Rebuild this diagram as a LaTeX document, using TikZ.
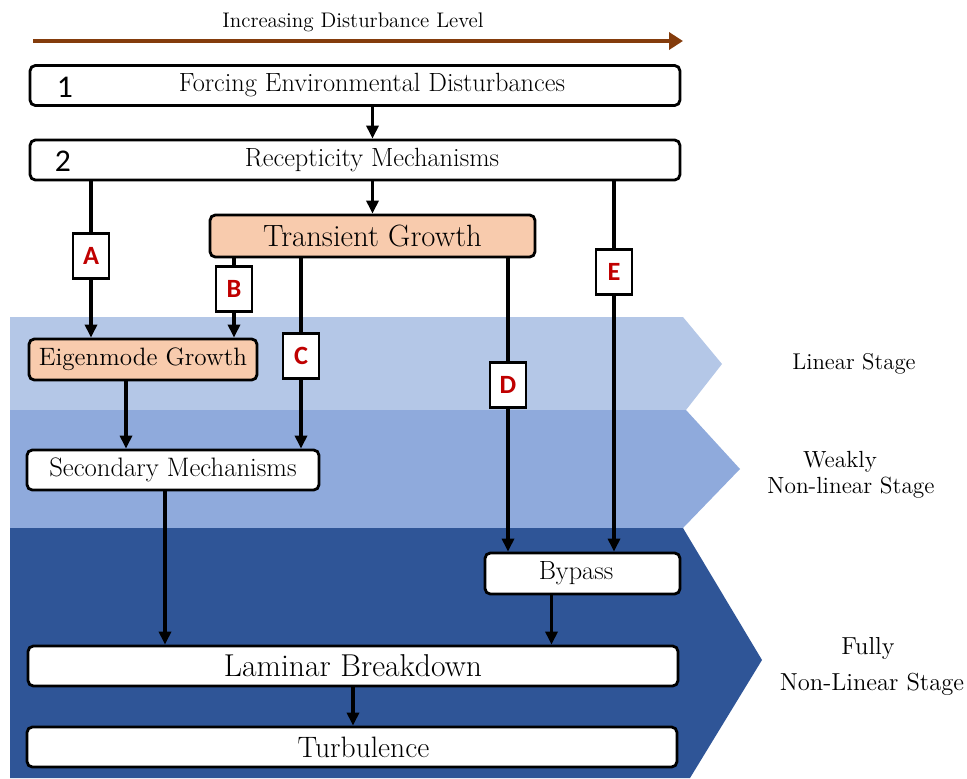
\documentclass[tikz,border=0pt]{standalone}
\usepackage{fontspec}
\newfontfamily\labfont{Carlito}
\usepackage{tikz}
\usetikzlibrary{shapes.geometric, arrows, arrows.meta}
\definecolor{peach}{HTML}{F8CBAD}
\definecolor{linearblue}{HTML}{B4C7E7}
\definecolor{weakblue}{HTML}{8FAADC}
\definecolor{fullblue}{HTML}{2F5597}
\definecolor{levelbrown}{HTML}{843C0C}
\definecolor{letterred}{HTML}{C00000}
\tikzstyle{stagebox} = [rectangle, rounded corners=3pt, draw=black, line width=1.6pt, fill=white, minimum height=0.8cm, text centered, inner sep=0pt, font=\fontsize{15}{17}\selectfont]
\tikzstyle{growth} = [stagebox, fill=peach]
\tikzstyle{letter} = [rectangle, draw=black, fill=white, line width=1.3pt, minimum width=0.72cm, minimum height=0.9cm, inner sep=0pt, text=letterred, font=\labfont\bfseries\fontsize{15}{17}\selectfont]
\tikzstyle{number} = [inner sep=0pt, font=\labfont\fontsize{18}{20}\selectfont]
\tikzstyle{stagename} = [align=center, font=\fontsize{13.3}{14.5}\selectfont]
\tikzstyle{line} = [line width=1.8pt]
\tikzstyle{arrow} = [line width=1.8pt,->,>={Triangle[length=0.26cm,width=0.24cm]}]
\tikzstyle{level} = [line width=2.8pt, draw=levelbrown, ->, >={Triangle[length=0.28cm,width=0.34cm]}]

\begin{document}
\begin{tikzpicture}[x=0.02cm, y=-0.02cm]
\useasboundingbox (0,0) rectangle (967,778);
% stage bands
\fill [linearblue] (10,317) -- (683,317) -- (722,364) -- (686,410) -- (10,410) -- cycle;
\fill [weakblue] (10,410) -- (686,410) -- (740,469) -- (683,528) -- (10,528) -- cycle;
\fill [fullblue] (10,528) -- (683,528) -- (762,660) -- (690,778) -- (10,778) -- cycle;
\node (linear) [stagename, font=\fontsize{13}{14.5}\selectfont] at (854,364) {Linear Stage};
\node (weakly) [stagename] at (851,475) {\hspace*{-0.44cm}Weakly\\Non-linear Stage};
\node (fully) [stagename, font=\fontsize{14}{20.5}\selectfont] at (872,666) {\hspace*{-0.16cm}Fully\\Non-Linear Stage};

% disturbance level
\node (title) [font=\fontsize{12}{14}\selectfont] at (353,22) {Increasing Disturbance Level};
\coordinate (lvlstart) at (33,41);
\coordinate (lvlend) at (683,41);
\draw [level] (lvlstart) -- (lvlend);

% boxes
\node (force) [stagebox, minimum width=13cm] at (355,85.5) {\hspace{0.68cm}Forcing Environmental Disturbances};
\node (num1) [number] at (65,87) {1};
\node (recep) [stagebox, minimum width=13cm] at (355,160) {\hspace{0.68cm}Recepticity Mechanisms};
\node (num2) [number] at (63,161) {2};
\node (transient) [growth, minimum width=6.5cm, minimum height=0.84cm, font=\fontsize{17.5}{19}\selectfont] at (372.5,236) {Transient Growth};
\node (eigen) [growth, minimum width=4.56cm, minimum height=0.82cm, font=\fontsize{14.3}{16}\selectfont] at (143,359.5) {Eigenmode Growth};
\node (secondary) [stagebox, minimum width=5.84cm, font=\fontsize{15.2}{17}\selectfont] at (173,470) {Secondary Mechanisms};
\node (bypass) [stagebox, minimum width=3.9cm, minimum height=0.82cm] at (582.5,573.5) {\hspace*{-0.26cm}Bypass};
\node (laminar) [stagebox, minimum width=13cm, font=\fontsize{18}{20}\selectfont] at (353,666) {Laminar Breakdown};
\node (turb) [stagebox, minimum width=13cm, font=\fontsize{16.8}{19}\selectfont] at (352,747) {\hspace{0.46cm}Turbulence};

% path letters
\node (labA) [letter] at (91,256) {A};
\node (labB) [letter] at (234,289) {B};
\node (labC) [letter] at (301,356) {C};
\node (labD) [letter] at (508,385) {D};
\node (labE) [letter] at (614,272) {E};

% connectors
\draw [arrow] (force.south -| transient) -- (recep.north -| transient);
\draw [arrow] (recep.south -| transient) -- (transient.north);
\draw [line] (recep.south -| labA) -- (labA);
\draw [arrow] (labA) -- (eigen.north -| labA);
\draw [line] (transient.south -| labB) -- (labB);
\draw [arrow] (labB) -- (eigen.north -| labB);
\draw [line] (transient.south -| labC) -- (labC);
\draw [arrow] (labC) -- (secondary.north -| labC);
\draw [line] (transient.south -| labD) -- (labD);
\draw [arrow] (labD) -- (bypass.north -| labD);
\draw [line] (recep.south -| labE) -- (labE);
\draw [arrow] (labE) -- (bypass.north -| labE);
\coordinate (eigenout) at ([xshift=-0.34cm]eigen.south);
\draw [arrow] (eigenout) -- (eigenout |- secondary.north);
\coordinate (secout) at ([xshift=-0.16cm]secondary.south);
\draw [arrow] (secout) -- (secout |- laminar.north);
\coordinate (bypassout) at ([xshift=-0.62cm]bypass.south);
\draw [arrow] (bypassout) -- (bypassout |- laminar.north);
\draw [arrow] (laminar.south) -- (laminar.south |- turb.north);
\end{tikzpicture}
\end{document}
